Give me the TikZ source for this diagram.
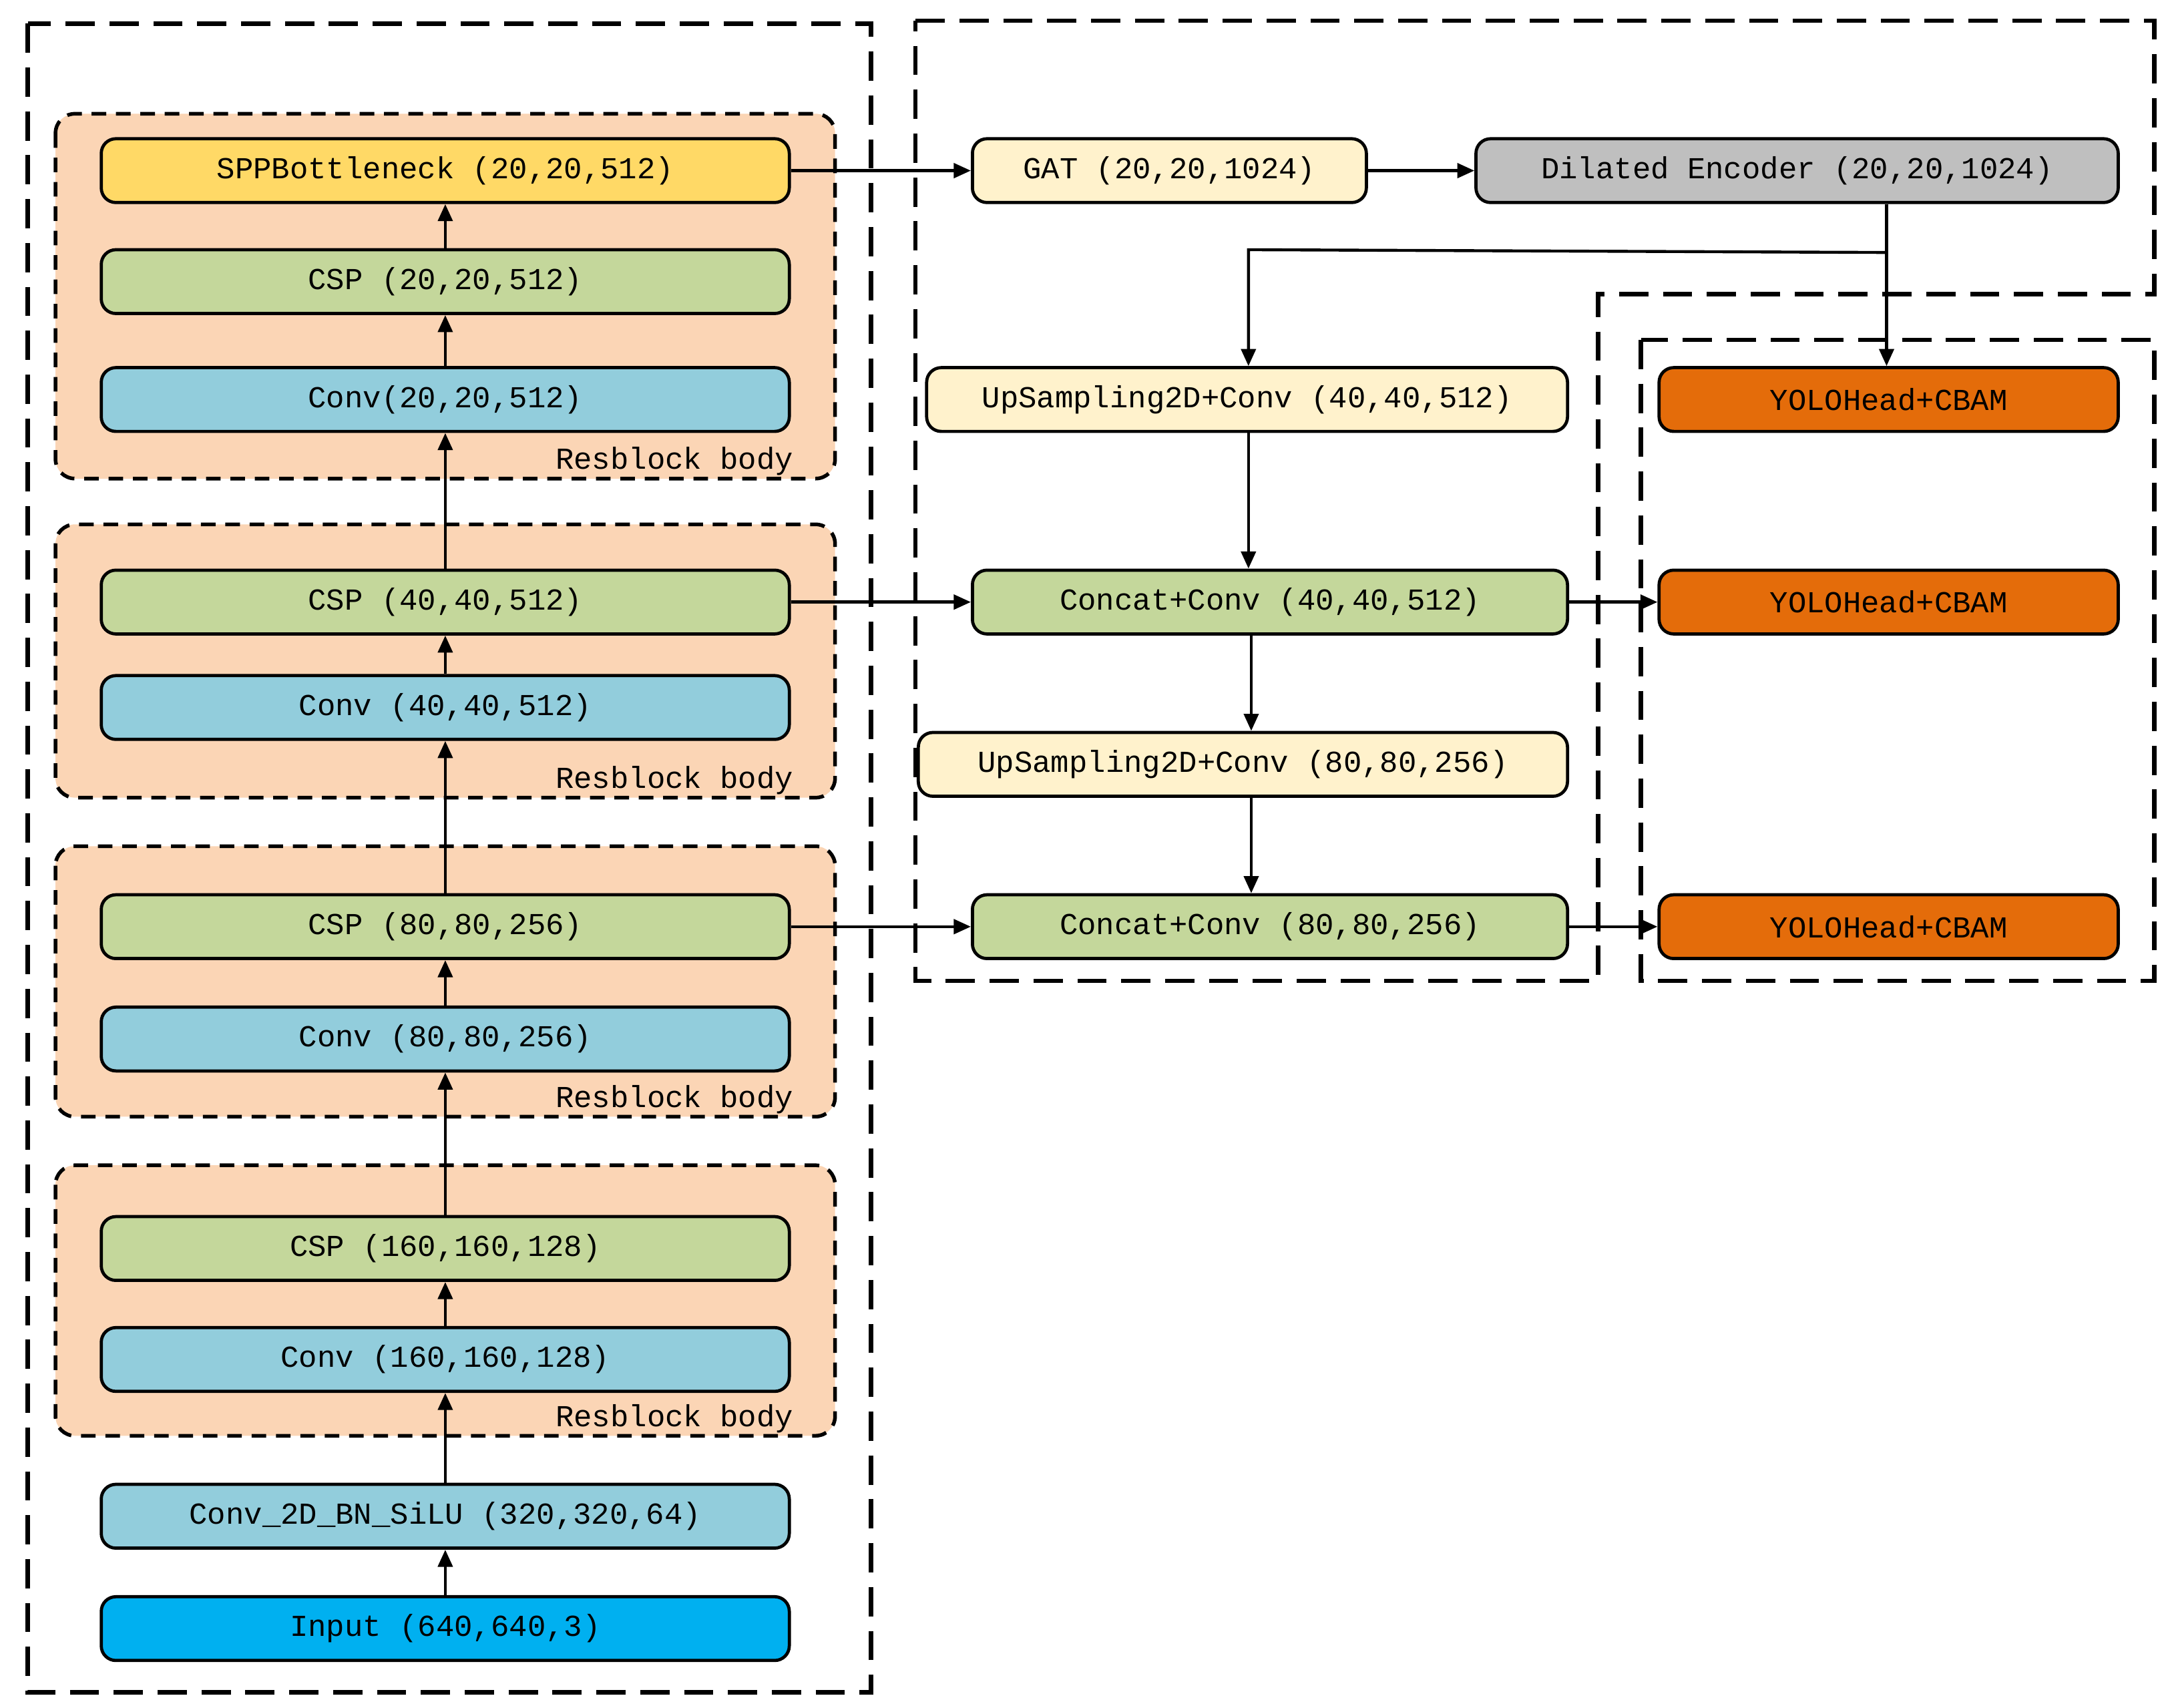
\documentclass[tikz,border=0pt]{standalone}
\usepackage{fontspec}
\setmonofont{Liberation Mono}
\usetikzlibrary{arrows.meta}
\definecolor{spp}{HTML}{FFD966}
\definecolor{csp}{HTML}{C4D79B}
\definecolor{cnv}{HTML}{92CDDC}
\definecolor{inp}{HTML}{00B0F0}
\definecolor{lt}{HTML}{FFF2CC}
\definecolor{dil}{HTML}{BFBFBF}
\definecolor{yol}{HTML}{E46C0A}
\definecolor{pch}{HTML}{FBD5B5}
\begin{document}
\begin{tikzpicture}[x=0.02cm,y=-0.02cm,
 blk/.style={draw,line width=1.3pt,rounded corners=6pt,minimum height=0.92cm,inner sep=0pt,font=\ttfamily\fontsize{12.5}{14}\selectfont},
 res/.style={draw,line width=1.5pt,dash pattern=on 6pt off 4pt,rounded corners=8pt,fill=pch},
 big/.style={line width=1.8pt,dash pattern=on 12pt off 6pt},
 ar/.style={line width=1.2pt,-{Triangle[length=7pt,width=6pt]}},
 lab/.style={anchor=south east,inner sep=1pt,font=\ttfamily\fontsize{12.5}{14}\selectfont}]
\useasboundingbox (0,0) rectangle (1560,1231);
\draw[big] (20,17) rectangle (628,1220);
\draw[big] (660,15) -- (1553,15) -- (1553,212) -- (1152,212) -- (1152,707) -- (660,707) -- cycle;
\draw[big] (1183,245) rectangle (1553,707);
\foreach \a/\b in {82/345,378/575,610/805,840/1035}{
 \draw[res] (40,\a) rectangle (602,\b);
 \node[lab] at (574,\b) {Resblock body};}
\def\nd#1#2#3#4#5#6{\node[blk,fill=#2,minimum width={(#4-#3)*0.02cm}] (#1) at ({(#3+#4)/2},#5) {#6};}
\nd{spp}{spp}{73}{569}{123}{SPPBottleneck (20,20,512)}
\nd{c1}{csp}{73}{569}{203}{CSP (20,20,512)}
\nd{v1}{cnv}{73}{569}{288}{Conv(20,20,512)}
\nd{c2}{csp}{73}{569}{434}{CSP (40,40,512)}
\nd{v2}{cnv}{73}{569}{510}{Conv (40,40,512)}
\nd{c3}{csp}{73}{569}{668}{CSP (80,80,256)}
\nd{v3}{cnv}{73}{569}{749}{Conv (80,80,256)}
\nd{c4}{csp}{73}{569}{900}{CSP (160,160,128)}
\nd{v4}{cnv}{73}{569}{980}{Conv (160,160,128)}
\nd{bn}{cnv}{73}{569}{1093}{Conv\_2D\_BN\_SiLU (320,320,64)}
\nd{in}{inp}{73}{569}{1174}{Input (640,640,3)}
\nd{gat}{lt}{701}{985}{123}{GAT (20,20,1024)}
\nd{de}{dil}{1064}{1527}{123}{Dilated Encoder (20,20,1024)}
\nd{u1}{lt}{668}{1130}{288}{UpSampling2D+Conv (40,40,512)}
\nd{k1}{csp}{701}{1130}{434}{Concat+Conv (40,40,512)}
\nd{u2}{lt}{662}{1130}{551}{UpSampling2D+Conv (80,80,256)}
\nd{k2}{csp}{701}{1130}{668}{Concat+Conv (80,80,256)}
\nd{y1}{yol}{1196}{1527}{288}{YOLOHead+CBAM}
\nd{y2}{yol}{1196}{1527}{434}{YOLOHead+CBAM}
\nd{y3}{yol}{1196}{1527}{668}{YOLOHead+CBAM}
\draw[ar] (in) -- (bn);
\draw[ar] (bn) -- (v4);
\draw[ar] (v4) -- (c4);
\draw[ar] (c4) -- (v3);
\draw[ar] (v3) -- (c3);
\draw[ar] (c3) -- (v2);
\draw[ar] (v2) -- (c2);
\draw[ar] (c2) -- (v1);
\draw[ar] (v1) -- (c1);
\draw[ar] (c1) -- (spp);
\draw[ar] (spp) -- (gat);
\draw[ar] (gat) -- (de);
\coordinate (dj) at (1360,182);
\coordinate (uj) at (900,180);
\draw[ar] (de.south -| dj) -- (y1.north -| dj);
\draw[ar] (dj) -- (uj) -- (u1.north -| uj);
\draw[ar] (u1.south -| uj) -- (k1.north -| uj);
\draw[ar] (k1.south -| 902,0) -- (u2.north -| 902,0);
\draw[ar] (u2.south -| 902,0) -- (k2.north -| 902,0);
\draw[ar] (c2) -- (k1);
\draw[ar] (c3) -- (k2);
\draw[ar] (k1) -- (y2);
\draw[ar] (k2) -- (y3);
\end{tikzpicture}
\end{document}
